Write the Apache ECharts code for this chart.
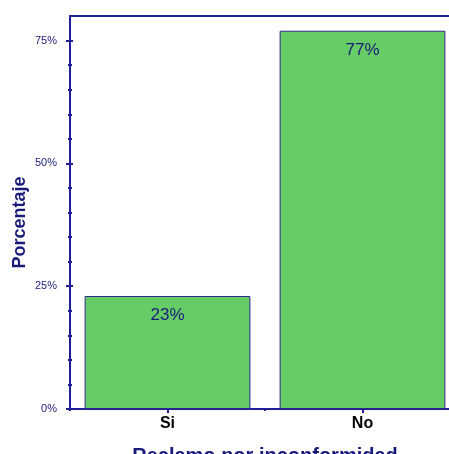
<!DOCTYPE html>
<html>
<head>
<meta charset="utf-8">
<script src="https://cdn.jsdelivr.net/npm/echarts@6/dist/echarts.min.js"></script>
<style>
html,body{margin:0;padding:0;background:#fff;}
#c{width:449px;height:454px;}
</style>
</head>
<body>
<div id="c"></div>
<script>
const categories = ['Si', 'No'];
const percentValues = [23, 77];
const yTickValues = [0, 25, 50, 75];
const yMinorTickValues = [5, 10, 15, 20, 30, 35, 40, 45, 55, 60, 65, 70];
const yAxisName = 'Porcentaje';
const xAxisName = 'Reclamo por inconformidad';

const NAVY = '#1e1e96';
const TEXT_NAVY = '#1a1a7a';
const FONT = 'Arial, "Liberation Sans", sans-serif';

const chart = echarts.init(document.getElementById('c'), null, {renderer: 'canvas'});

const baseY = {
  type: 'value', min: 0, max: 80, position: 'left',
  splitLine: {show: false}, axisLine: {show: false},
  axisLabel: {show: false}, axisTick: {show: false}
};

chart.setOption({
  animation: false,
  backgroundColor: '#ffffff',
  grid: {left: 70, top: 16, width: 390, height: 393, containLabel: false, outerBoundsMode: 'none'},
  xAxis: [
    {
      type: 'category', data: categories, position: 'bottom',
      axisLine: {show: true, onZero: false, lineStyle: {color: NAVY, width: 2}},
      axisTick: {show: true, alignWithLabel: true, length: 4, lineStyle: {color: NAVY, width: 2}},
      axisLabel: {color: '#000', fontWeight: 'bold', fontSize: 16, fontFamily: FONT, margin: 7},
      name: xAxisName, nameLocation: 'middle', nameGap: 37, nameMoveOverlap: false,
      nameTextStyle: {color: TEXT_NAVY, fontWeight: 'bold', fontSize: 20, fontFamily: FONT},
      splitLine: {show: false}
    },
    {
      type: 'category', data: categories, position: 'top',
      axisLine: {show: true, onZero: false, lineStyle: {color: NAVY, width: 2}},
      axisTick: {show: false}, axisLabel: {show: false}, splitLine: {show: false}
    },
    {
      type: 'category', data: categories, position: 'bottom',
      axisLine: {show: false, onZero: false},
      axisTick: {show: true, length: 2, lineStyle: {color: NAVY, width: 2}},
      axisLabel: {show: false}, splitLine: {show: false}
    }
  ],
  yAxis: [
    Object.assign({}, baseY, {
      axisLine: {show: true, onZero: false, lineStyle: {color: NAVY, width: 2}},
      axisTick: {show: true, inside: false, length: 4, customValues: yTickValues, lineStyle: {color: NAVY, width: 2}},
      axisLabel: {show: true, customValues: yTickValues, formatter: v => v + '%', color: TEXT_NAVY, fontSize: 11, fontFamily: FONT, margin: 13},
      name: yAxisName, nameLocation: 'middle', nameGap: 41, nameRotate: 90, nameMoveOverlap: false,
      nameTextStyle: {color: TEXT_NAVY, fontWeight: 'bold', fontSize: 18, fontFamily: FONT, padding: [0, 20, 0, 0]}
    }),
    Object.assign({}, baseY, {
      axisTick: {show: true, inside: true, length: 3, customValues: yTickValues, lineStyle: {color: NAVY, width: 2}}
    }),
    Object.assign({}, baseY, {
      axisTick: {show: true, inside: false, length: 2, customValues: yMinorTickValues, lineStyle: {color: NAVY, width: 2}}
    }),
    Object.assign({}, baseY, {
      axisTick: {show: true, inside: true, length: 2, customValues: yMinorTickValues, lineStyle: {color: NAVY, width: 2}}
    })
  ],
  series: [{
    type: 'bar', xAxisIndex: 0, yAxisIndex: 0,
    data: percentValues,
    barWidth: '85%',
    itemStyle: {color: '#66cc66', borderColor: '#2a2a8c', borderWidth: 1},
    label: {
      show: true, position: 'insideTop', distance: 11,
      formatter: p => Math.round(p.value) + '%',
      color: TEXT_NAVY, fontSize: 17, fontFamily: FONT
    }
  }]
});
</script>
</body>
</html>
